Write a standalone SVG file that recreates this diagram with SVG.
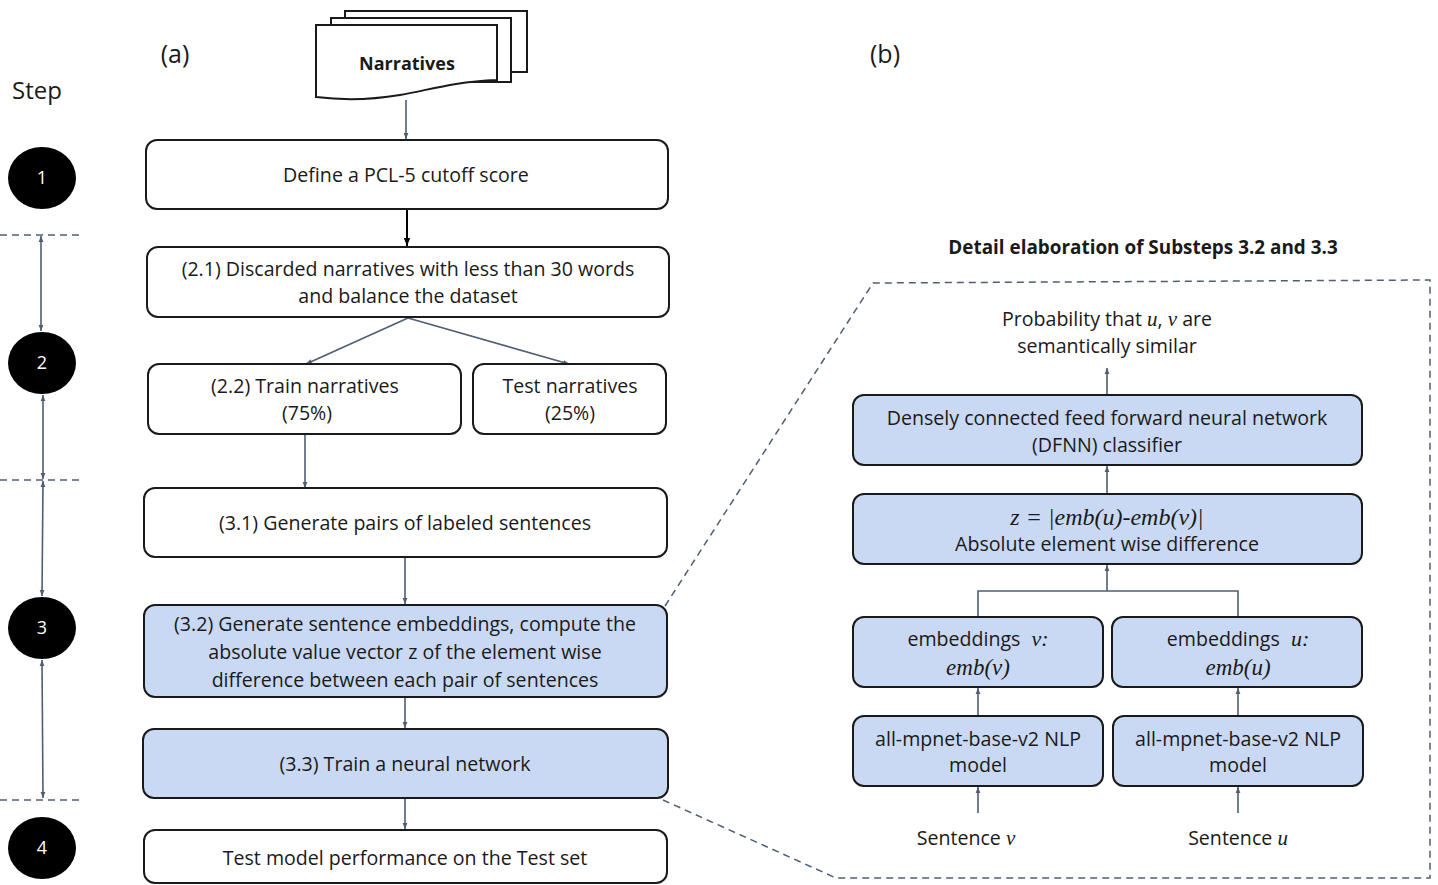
<svg xmlns="http://www.w3.org/2000/svg" width="1438" height="885" viewBox="0 0 1438 885">
<defs>
<style>
text{font-family:"Open Sans","Noto Sans","Liberation Sans",sans-serif;fill:#1a1a1a;text-anchor:middle}
.t{font-size:19.6px}
.m{font-family:"Liberation Serif",serif;font-style:italic}
.box{fill:#fff;stroke:#1a1a1a;stroke-width:2}
.blue{fill:#c9d9f3;stroke:#1a1a1a;stroke-width:2}
.c{fill:none;stroke:#4f5e73;stroke-width:1.6}
.dash{fill:none;stroke:#4f5e73;stroke-width:1.5;stroke-dasharray:7 5}
.circ{fill:#000}
.num{fill:#fff;font-size:18px}
</style>
<marker id="ah" viewBox="0 0 10 10" refX="10" refY="5" markerWidth="6" markerHeight="6" orient="auto-start-reverse" markerUnits="userSpaceOnUse">
<path d="M0,1 L10,5 L0,9 Z" fill="#4f5e73"/>
</marker>
<marker id="ahk" viewBox="0 0 10 10" refX="10" refY="5" markerWidth="8" markerHeight="8" orient="auto" markerUnits="userSpaceOnUse">
<path d="M0,1 L10,5 L0,9 Z" fill="#000"/>
</marker>
</defs>
<rect width="1438" height="885" fill="#fff"/>

<g id="labels">
<text x="175" y="63" style="font-size:25px">(a)</text>
<text x="885" y="63" style="font-size:25px">(b)</text>
<text x="37" y="99" style="font-size:24px">Step</text>
<text x="1143" y="254" style="font-size:18.9px;font-weight:bold">Detail elaboration of Substeps 3.2 and 3.3</text>
</g>

<g id="steps">
<ellipse class="circ" cx="42" cy="178" rx="34" ry="31"/><text class="num" x="42" y="184">1</text>
<ellipse class="circ" cx="42" cy="363" rx="34" ry="31"/><text class="num" x="42" y="369">2</text>
<ellipse class="circ" cx="42" cy="628" rx="34" ry="31"/><text class="num" x="42" y="634">3</text>
<ellipse class="circ" cx="42" cy="848" rx="34" ry="31"/><text class="num" x="42" y="854">4</text>
<line class="dash" x1="0" y1="235" x2="84" y2="235"/>
<line class="dash" x1="0" y1="480" x2="84" y2="480"/>
<line class="dash" x1="0" y1="800" x2="82" y2="800"/>
<line class="c" x1="41" y1="236" x2="41" y2="331" marker-start="url(#ah)" marker-end="url(#ah)"/>
<line class="c" x1="43" y1="395" x2="43" y2="479" marker-start="url(#ah)" marker-end="url(#ah)"/>
<line class="c" x1="43" y1="481" x2="42" y2="596" marker-start="url(#ah)" marker-end="url(#ah)"/>
<line class="c" x1="42" y1="660" x2="43" y2="798" marker-start="url(#ah)" marker-end="url(#ah)"/>
</g>

<g id="narratives">
<rect x="345" y="11" width="182" height="61" class="box"/>
<rect x="331" y="18" width="180" height="64" class="box"/>
<path d="M316,25 H497 V80 C450,82 430,90 400,95 C370,100 340,100 316,97 Z" class="box"/>
<text x="407" y="70" style="font-size:18px;font-weight:bold">Narratives</text>
</g>

<g id="connectors">
<line class="c" x1="406" y1="100" x2="406" y2="139" marker-end="url(#ah)"/>
<line x1="407" y1="210" x2="407" y2="246" stroke="#000" stroke-width="2" marker-end="url(#ahk)"/>
<line class="c" x1="408" y1="318" x2="306" y2="364" marker-end="url(#ah)"/>
<line class="c" x1="408" y1="318" x2="569" y2="364" marker-end="url(#ah)"/>
<line class="c" x1="305" y1="435" x2="305" y2="488" marker-end="url(#ah)"/>
<line class="c" x1="405" y1="558" x2="405" y2="604" marker-end="url(#ah)"/>
<line class="c" x1="405" y1="698" x2="405" y2="728" marker-end="url(#ah)"/>
<line class="c" x1="405" y1="799" x2="405" y2="829" marker-end="url(#ah)"/>
<path class="dash" d="M665,606 L873,283 L1430,280 L1430,878 L836,878 L663,800"/>
<line class="c" x1="1107" y1="395" x2="1107" y2="368" marker-end="url(#ah)"/>
<line class="c" x1="1107" y1="494" x2="1107" y2="466" marker-end="url(#ah)"/>
<path class="c" d="M978,617 V591 H1238 V617"/>
<line class="c" x1="1107" y1="591" x2="1107" y2="565" marker-end="url(#ah)"/>
<line class="c" x1="978" y1="716" x2="978" y2="688" marker-end="url(#ah)"/>
<line class="c" x1="1238" y1="716" x2="1238" y2="688" marker-end="url(#ah)"/>
<line class="c" x1="978" y1="813" x2="978" y2="787" marker-end="url(#ah)"/>
<line class="c" x1="1238" y1="813" x2="1238" y2="787" marker-end="url(#ah)"/>
</g>

<g id="n1"><rect class="box" x="146" y="140" width="522" height="69" rx="11"/>
<text class="t" x="406" y="182">Define a PCL-5 cutoff score</text></g>

<g id="n21"><rect class="box" x="147" y="247" width="522" height="70" rx="11"/>
<text class="t" x="408" y="276">(2.1) Discarded narratives with less than 30 words</text>
<text class="t" x="408" y="303">and balance the dataset</text></g>

<g id="n22"><rect class="box" x="148" y="364" width="313" height="70" rx="11"/>
<text class="t" x="305" y="393">(2.2) Train narratives</text>
<text class="t" x="307" y="420">(75%)</text></g>

<g id="ntest"><rect class="box" x="473" y="364" width="193" height="70" rx="11"/>
<text class="t" x="570" y="393">Test narratives</text>
<text class="t" x="570" y="420">(25%)</text></g>

<g id="n31"><rect class="box" x="144" y="488" width="523" height="69" rx="11"/>
<text class="t" x="405" y="530">(3.1) Generate pairs of labeled sentences</text></g>

<g id="n32"><rect class="blue" x="144" y="605" width="523" height="92" rx="11"/>
<text class="t" x="405" y="631">(3.2) Generate sentence embeddings, compute the</text>
<text class="t" x="405" y="659">absolute value vector z of the element wise</text>
<text class="t" x="405" y="687">difference between each pair of sentences</text></g>

<g id="n33"><rect class="blue" x="143" y="729" width="525" height="69" rx="11"/>
<text class="t" x="405" y="771">(3.3) Train a neural network</text></g>

<g id="n4"><rect class="box" x="144" y="830" width="523" height="53" rx="11"/>
<text class="t" x="405" y="865">Test model performance on the Test set</text></g>

<g id="prob">
<text class="t" x="1107" y="326">Probability that <tspan class="m" style="font-size:21px">u</tspan>, <tspan class="m" style="font-size:21px">v</tspan> are</text>
<text class="t" x="1107" y="353">semantically similar</text>
</g>

<g id="dfnn"><rect class="blue" x="853" y="395" width="509" height="70" rx="11"/>
<text class="t" x="1107" y="425">Densely connected feed forward neural network</text>
<text class="t" x="1107" y="452">(DFNN) classifier</text></g>

<g id="zbox"><rect class="blue" x="853" y="494" width="509" height="70" rx="11"/>
<text class="m" x="1107" y="525" style="font-size:24px">z = |emb(u)-emb(v)|</text>
<text class="t" x="1107" y="551">Absolute element wise difference</text></g>

<g id="embv"><rect class="blue" x="853" y="617" width="250" height="70" rx="11"/>
<text class="t" x="978" y="646">embeddings <tspan class="m" dx="6" style="font-size:22px">v:</tspan></text>
<text class="m" x="978" y="675" style="font-size:23px">emb(v)</text></g>

<g id="embu"><rect class="blue" x="1112" y="617" width="250" height="70" rx="11"/>
<text class="t" x="1238" y="646">embeddings <tspan class="m" dx="6" style="font-size:22px">u:</tspan></text>
<text class="m" x="1238" y="675" style="font-size:23px">emb(u)</text></g>

<g id="modelv"><rect class="blue" x="853" y="716" width="250" height="70" rx="11"/>
<text class="t" x="978" y="746">all-mpnet-base-v2 NLP</text>
<text class="t" x="978" y="772">model</text></g>

<g id="modelu"><rect class="blue" x="1113" y="716" width="250" height="70" rx="11"/>
<text class="t" x="1238" y="746">all-mpnet-base-v2 NLP</text>
<text class="t" x="1238" y="772">model</text></g>

<g id="sentences">
<text class="t" x="966" y="845">Sentence <tspan class="m" style="font-size:21px">v</tspan></text>
<text class="t" x="1238" y="845">Sentence <tspan class="m" style="font-size:21px">u</tspan></text>
</g>
</svg>
